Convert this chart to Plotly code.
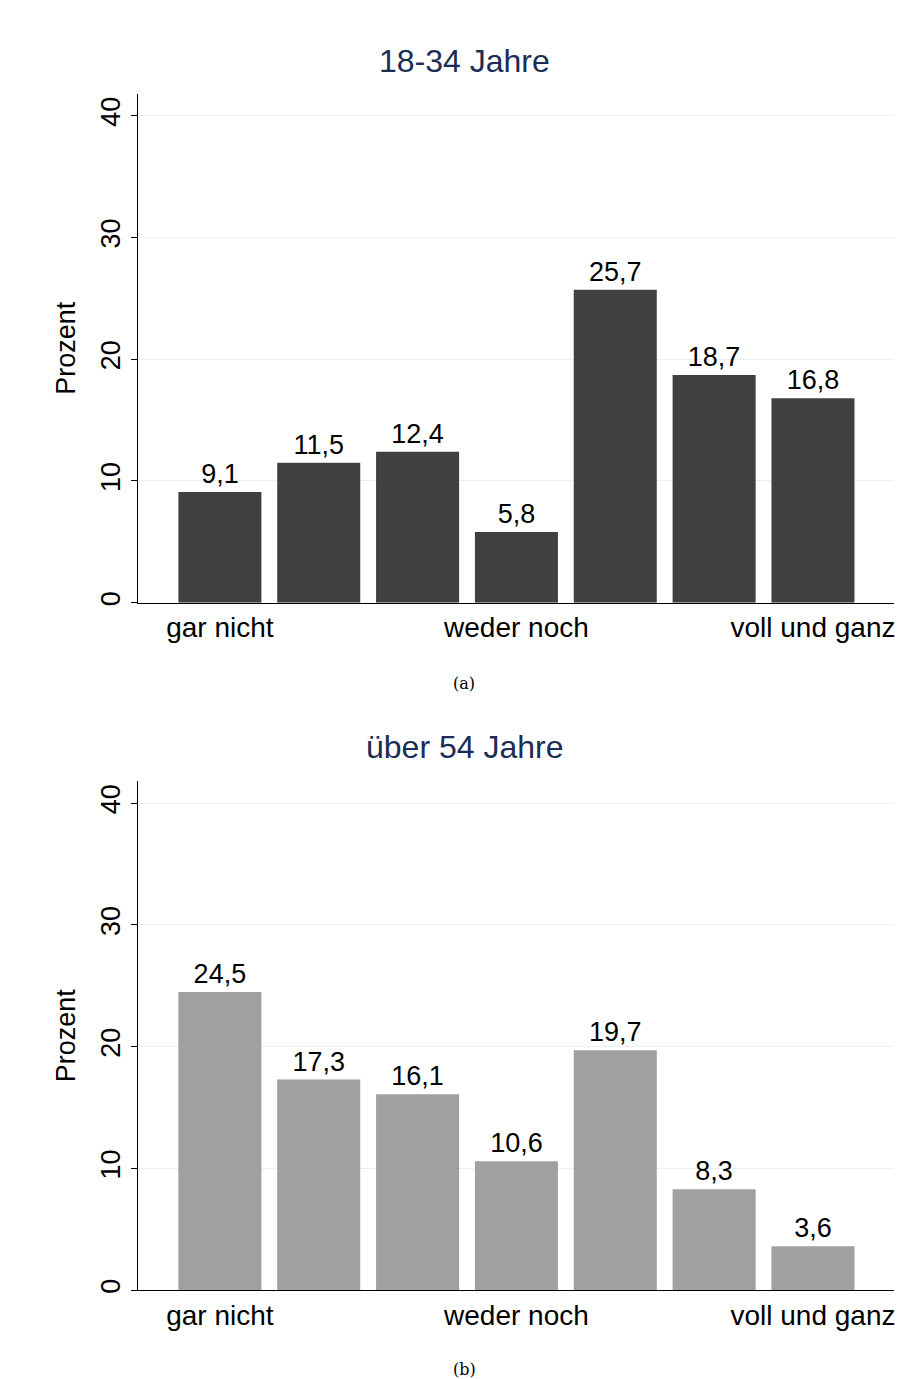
import plotly.graph_objects as go

positions = [1, 2, 3, 4, 5, 6, 7]
tick_positions = [1, 4, 7]
tick_labels = ["gar nicht", "weder noch", "voll und ganz"]
young_values = [9.1, 11.5, 12.4, 5.8, 25.7, 18.7, 16.8]
old_values = [24.5, 17.3, 16.1, 10.6, 19.7, 8.3, 3.6]
titles = ["18-34 Jahre", "über 54 Jahre"]
captions = ["(a)", "(b)"]
y_ticks = [0, 10, 20, 30, 40]

W, H = 908, 1379
def py(p):
    return 1 - p / H

FONT = "Liberation Sans, Arial, sans-serif"

fig = go.Figure()

def fmt(v):
    return f"{v:.1f}".replace(".", ",")

fig.add_trace(go.Bar(
    x=positions, y=young_values, width=0.84,
    marker=dict(color="#404040", line=dict(width=0)),
    text=[fmt(v) for v in young_values], textposition="outside",
    textfont=dict(family=FONT, size=27, color="#000000"),
    cliponaxis=False, xaxis="x", yaxis="y", showlegend=False, hoverinfo="skip",
))
fig.add_trace(go.Bar(
    x=positions, y=old_values, width=0.84,
    marker=dict(color="#a0a0a0", line=dict(width=0)),
    text=[fmt(v) for v in old_values], textposition="outside",
    textfont=dict(family=FONT, size=27, color="#000000"),
    cliponaxis=False, xaxis="x2", yaxis="y2", showlegend=False, hoverinfo="skip",
))

xdom = [138 / W, 895 / W]
xr = [1 - 0.83, 7 + 0.82]
yr = [0, 41.8]

common_x = dict(
    range=xr, tickmode="array", tickvals=tick_positions, ticktext=tick_labels,
    showgrid=False, zeroline=False, showline=True, linecolor="#000000", linewidth=1.2,
    ticks="", tickfont=dict(family=FONT, size=28, color="#000000"), fixedrange=True,
)
common_y = dict(
    range=yr, tickmode="array", tickvals=y_ticks, ticktext=[str(t) for t in y_ticks],
    showgrid=True, gridcolor="#eaeff2", gridwidth=1.2, zeroline=False,
    showline=True, linecolor="#000000", linewidth=1.2,
    ticks="outside", ticklen=6, tickcolor="#000000", tickangle=-90,
    tickfont=dict(family=FONT, size=27, color="#000000"), fixedrange=True,
    title=dict(text="Prozent", font=dict(family=FONT, size=27, color="#000000"), standoff=12),
)

fig.update_layout(
    width=W, height=H, margin=dict(l=0, r=0, t=0, b=0),
    paper_bgcolor="white", plot_bgcolor="white", bargap=0.16,
    xaxis=dict(domain=xdom, anchor="y", **common_x),
    yaxis=dict(domain=[py(604), py(94)], anchor="x", **common_y),
    xaxis2=dict(domain=xdom, anchor="y2", **common_x),
    yaxis2=dict(domain=[py(1293), py(783)], anchor="x2", **common_y),
)

for t, yc in zip(titles, [61, 749]):
    fig.add_annotation(text=t, x=465 / W, y=py(yc), xref="paper", yref="paper",
                       showarrow=False, xanchor="center", yanchor="middle",
                       font=dict(family=FONT, size=32, color="#1c2d55"))
for c, yc in zip(captions, [685, 1372]):
    fig.add_annotation(text=c, x=465 / W, y=py(yc), xref="paper", yref="paper",
                       showarrow=False, xanchor="center", yanchor="middle",
                       font=dict(family="DejaVu Serif, serif", size=16, color="#000000"))

fig.write_html("out.html", config={"displayModeBar": False},
               post_script="document.body.style.margin='0';document.body.style.overflow='hidden';")
